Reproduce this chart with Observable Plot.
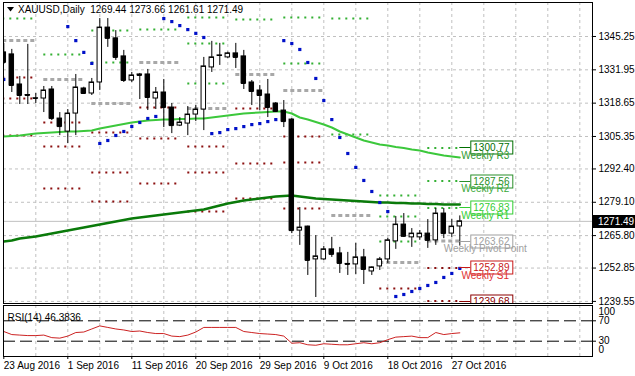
<!DOCTYPE html>
<html><head><meta charset="utf-8">
<script src="https://cdn.jsdelivr.net/npm/d3@7"></script>
<script src="https://cdn.jsdelivr.net/npm/@observablehq/plot@0.6"></script>
<style>
html,body{margin:0;padding:0;background:#fff;}
#wrap{position:relative;width:635px;height:376px;overflow:hidden;background:#fff;font-family:"Liberation Sans",Arial,sans-serif;}
#wrap svg.chart{position:absolute;left:0;}
#title{position:absolute;left:7px;top:4px;font-size:10px;line-height:12px;color:#000;white-space:pre;}
#title svg{vertical-align:middle;margin-right:4px;position:relative;top:-1px;}
</style></head><body>
<div id="wrap"><div id="title"></div></div>
<script>
// ---------- data ----------
const symbol = "XAUUSD,Daily";
const lastOHLC = ["1269.44","1273.66","1261.61","1271.49"];
const opens = [1338.9,1338.1,1326.1,1321.9,1320.6,1320.5,1324.1,1312.5,1307.3,1314.5,1324.5,1322.5,1326.9,1348.8,1344.5,1337.3,1327.7,1330.1,1330.1,1320.5,1322.9,1316.9,1309.7,1310.5,1314.1,1316.1,1332.9,1337.5,1336.9,1338.5,1337.3,1326.9,1323.7,1322.1,1318.5,1315.7,1312.1,1267.8,1269.4,1256.3,1256.3,1260.3,1258.7,1254.5,1254.3,1257.1,1251.5,1253.5,1256.3,1263.5,1270.2,1265.1,1265.1,1266.6,1263.9,1274.6,1266.6,1269.44];
const highs = [1342.5,1340.1,1329.3,1342.1,1322.5,1325.3,1325.3,1314.9,1316.1,1330.1,1325.0,1328.5,1352.4,1352.4,1347.6,1339.7,1330.9,1330.5,1332.1,1324.9,1328.1,1318.5,1312.9,1317.3,1317.7,1336.9,1343.3,1342.5,1339.0,1342.5,1339.7,1327.7,1325.7,1328.1,1318.9,1319.7,1312.5,1277.0,1269.6,1265.8,1261.5,1265.1,1261.1,1259.1,1262.7,1260.3,1253.3,1257.1,1264.7,1273.4,1274.6,1268.6,1267.8,1272.2,1276.6,1276.6,1272.2,1273.66];
const lows = [1334.1,1322.9,1318.1,1318.1,1318.5,1314.9,1311.7,1305.7,1302.5,1305.7,1322.1,1321.7,1323.7,1340.9,1335.7,1326.9,1326.9,1320.1,1315.7,1316.1,1308.9,1306.5,1309.3,1305.7,1311.3,1307.7,1330.9,1333.7,1336.5,1332.5,1324.1,1317.7,1315.7,1312.9,1314.9,1308.9,1266.6,1261.9,1249.9,1241.1,1255.9,1257.1,1250.7,1249.9,1250.3,1246.3,1249.9,1251.9,1254.7,1260.3,1265.1,1261.1,1263.9,1260.7,1261.9,1264.6,1265.1,1261.61];
const closes = [1334.9,1325.7,1321.7,1321.7,1320.5,1323.7,1312.5,1309.3,1314.5,1324.9,1322.5,1326.9,1348.8,1344.5,1336.9,1327.7,1329.7,1329.7,1320.9,1322.9,1316.9,1309.7,1310.9,1314.1,1316.1,1333.3,1336.9,1337.7,1338.5,1336.9,1326.5,1323.3,1321.7,1316.9,1315.3,1311.3,1267.8,1269.0,1255.9,1257.5,1260.3,1258.3,1254.7,1254.3,1257.1,1252.3,1253.1,1256.3,1263.9,1270.2,1265.5,1266.6,1266.6,1263.9,1274.6,1266.6,1269.4,1271.49];
const sar = [1328.1,null,null,null,null,null,null,null,1349.2,1343.6,1338.9,1334.5,1302.55,1303.75,1305.75,1307.34,1309.34,1310.93,1312.53,1313.33,1352.4,1351.2,1349.6,1348.0,1346.5,1344.85,1306.5,1306.9,1308.1,1308.5,1309.3,1310.1,1310.5,1311.3,1312.1,1343.6,1342.45,1340.06,1334.87,1328.5,1319.7,1312.1,1304.95,1298.56,1293.0,1287.8,1283.4,1279.0,1275.4,1241.5,1242.3,1243.5,1244.7,1245.9,1247.1,1249.1,1250.7,1252.7];
const maFast = [1305.35,1305.55,1305.75,1306.14,1306.54,1306.74,1306.94,1307.14,1307.34,1307.34,1307.54,1307.74,1308.54,1309.14,1309.73,1310.33,1310.93,1311.33,1311.73,1311.93,1312.13,1312.13,1312.33,1312.33,1312.53,1312.53,1312.93,1313.33,1313.73,1314.12,1314.52,1314.72,1314.92,1315.12,1315.32,1315.32,1314.52,1312.93,1312.13,1311.13,1310.13,1308.94,1307.34,1306.14,1304.95,1303.75,1302.95,1302.15,1301.75,1301.15,1300.76,1300.16,1299.76,1298.96,1298.36,1297.76,1297.37,1296.97];
const maSlow = [1263.45,1263.85,1264.65,1265.05,1265.45,1266.05,1266.64,1267.24,1267.84,1268.44,1269.04,1269.64,1270.23,1270.83,1271.43,1272.03,1272.63,1273.03,1273.43,1273.82,1274.22,1274.62,1275.02,1275.42,1275.82,1276.22,1277.02,1277.82,1278.61,1279.21,1279.81,1280.21,1280.61,1281.01,1281.41,1281.61,1281.81,1281.41,1281.01,1280.61,1280.41,1280.21,1280.01,1279.81,1279.61,1279.41,1279.21,1279.01,1279.01,1278.81,1278.81,1278.61,1278.61,1278.41,1278.41,1278.21,1278.21,1278.21];
const rsi = [49,43,42,41,41,42,37,36,40,47,48,54,60,57,54,52,49,50,47,45,45,40,39,42,48,57,57,57,57,57,49,47,45,44,43,40,26,27,23,22,25,24,23,23,25,27,25,27,33,38,39,40,37,37,47,43,45,46.38];
const rsiLabel = "RSI(14) 46.3836";

// weekly pivot levels (week start bar .. end bar)
const weekStart = [-1,5,11,17,23,29,35,41,47,53];
const weekEnd   = [4,10,16,22,28,34,40,46,52,57];
const r3 = [null,null,null,null,1352.83,null,null,null,1281.81,1300.77];
const r2 = [null,null,1347.64,null,1342.45,null,1352.83,1352.43,1273.43,1287.56];
const r1 = [1352.43,1338.06,1334.87,1348.04,1326.49,1352.03,1334.47,1306.14,1263.45,1276.83];
const pp = [1343.65,1328.09,1318.51,1334.87,1316.52,1330.08,1323.70,1273.82,1255.07,1263.62];
const s1 = [1328.90,1310.93,1306.94,1316.92,1301.36,1316.52,1305.35,null,1244.70,1252.89];
const s2 = [1320.50,1301.36,1290.98,1304.55,1290.98,1294.57,1294.97,null,null,1239.68];
const s3 = [1305.75,1284.60,1279.41,1286.60,1275.42,1280.61,1276.62,null,null,null];
const levelNames = ["Weekly R3","Weekly R2","Weekly R1","Weekly Pivot Point","Weekly S1","Weekly S2"];
const levelBoxColors = ["#006f00","#2a8f2a","#32cd32","#a0a0a0","#c81818","#8b0000"];
const levelTextColors = ["#2f9a2f","#38a838","#32cd32","#a0a0a0","#e03030","#b01c1c"];

const priceTicks = [1345.25,1331.95,1318.65,1305.35,1292.40,1279.10,1265.80,1252.85,1239.55];
const dateTickBars = [0,8,16,24,32,40,48,56];
const dateTickLabels = ["23 Aug 2016","1 Sep 2016","11 Sep 2016","20 Sep 2016","29 Sep 2016","9 Oct 2016","18 Oct 2016","27 Oct 2016"];
const gridBars = d3.range(4, 73, 4);
const rsiLevels = [30,70];

// ---------- build tables ----------
const candles = opens.map((o,i)=>({i, o, h:highs[i], l:lows[i], c:closes[i], top:Math.max(o,closes[i]), bot:Math.min(o,closes[i])}));
const upC = candles.filter(d=>d.c>=d.o), dnC = candles.filter(d=>d.c<d.o);
const sarData = sar.map((v,i)=>({i,v})).filter(d=>d.v!=null);
const fastData = maFast.map((v,i)=>({i,v}));
const slowData = maSlow.map((v,i)=>({i,v}));
const rsiData = rsi.map((v,i)=>({i,v}));
function segs(arr){ return arr.map((v,k)=>({x1:weekStart[k], x2:weekEnd[k], y:v})).filter(d=>d.y!=null); }
const rSegs = [...segs(r3),...segs(r2),...segs(r1)];
const pSegs = segs(pp);
const sSegs = [...segs(s1),...segs(s2),...segs(s3)];
const labelMap = new Map(dateTickBars.map((b,k)=>[b,dateTickLabels[k]]));

const xDomain = [-0.0375, 73.5875];
const font = "Liberation Sans, Arial, sans-serif";
const lastIdx = closes.length-1;
const lastClose = closes[lastIdx];

// ---------- main chart ----------
const main = Plot.plot({
  width:635, height:304, marginTop:2, marginBottom:1, marginLeft:3, marginRight:43,
  style:{background:"transparent", fontFamily:font, fontSize:"10px", color:"#000", overflow:"visible"},
  x:{domain:xDomain, axis:null, label:null},
  y:{domain:[1238.71,1358.81], axis:null, label:null},
  marks:[
    Plot.gridX({ticks:gridBars, stroke:"#c0c0c0", strokeOpacity:1, strokeDasharray:"3,3"}),
    Plot.gridY({ticks:priceTicks, stroke:"#c0c0c0", strokeOpacity:1, strokeDasharray:"3,3"}),
    Plot.ruleY([lastClose], {stroke:"#c0c0c0", strokeWidth:1}),
    Plot.ruleY(rSegs, {x1:"x1", x2:"x2", y:"y", stroke:"#33b033", strokeWidth:2, strokeDasharray:"2,5", clip:true}),
    Plot.ruleY(pSegs, {x1:"x1", x2:"x2", y:"y", stroke:"#a8a8a8", strokeWidth:3, strokeDasharray:"4,3", clip:true}),
    Plot.ruleY(sSegs, {x1:"x1", x2:"x2", y:"y", stroke:"#8b1010", strokeWidth:2, strokeDasharray:"2,5", clip:true}),
    Plot.line(fastData, {x:"i", y:"v", stroke:"#3cc83c", strokeWidth:2, clip:true}),
    Plot.line(slowData, {x:"i", y:"v", stroke:"#0a7a0a", strokeWidth:2.5, clip:true}),
    Plot.ruleX(candles, {x:"i", y1:"l", y2:"h", stroke:"#000", strokeWidth:1, clip:true}),
    Plot.rect(upC, {x1:d=>d.i-0.28, x2:d=>d.i+0.28, y1:"bot", y2:"top", fill:"#fff", stroke:"#000", strokeWidth:1, clip:true}),
    Plot.rect(dnC, {x1:d=>d.i-0.28, x2:d=>d.i+0.28, y1:"bot", y2:"top", fill:"#000", stroke:"#000", strokeWidth:1, clip:true}),
    Plot.ruleY(candles, {x1:d=>d.i-0.28, x2:d=>d.i+0.28, y:"c", stroke:"#000", strokeWidth:1, clip:true}),
    Plot.dot(sarData, {x:"i", y:"v", symbol:"square", r:1.8, fill:"#0010c8", stroke:"none", clip:true}),
    Plot.axisY({ticks:priceTicks, anchor:"right", label:null, tickSize:3, tickPadding:3, tickFormat:d=>d.toFixed(2), fontSize:10, stroke:"#000"}),
    Plot.frame({stroke:"#000"})
  ]
});
main.classList.add("chart");
main.style.top = "0px";

// ---------- RSI panel ----------
const rsiPlot = Plot.plot({
  width:635, height:72, marginTop:1, marginBottom:20, marginLeft:3, marginRight:43,
  style:{background:"transparent", fontFamily:font, fontSize:"10px", color:"#000", overflow:"visible"},
  x:{domain:xDomain, axis:null, label:null},
  y:{domain:[0,100], axis:null, label:null},
  marks:[
    Plot.gridX({ticks:gridBars, stroke:"#c0c0c0", strokeOpacity:1, strokeDasharray:"3,3"}),
    Plot.ruleY(rsiLevels, {stroke:"#000", strokeDasharray:"12,5"}),
    Plot.line(rsiData, {x:"i", y:"v", stroke:"#cc2222", strokeWidth:1}),
    Plot.axisX({ticks:dateTickBars, anchor:"bottom", label:null, tickSize:3, tickPadding:2, tickFormat:d=>labelMap.get(d), textAnchor:"start", fontSize:10}),
    Plot.axisY({ticks:rsiLevels, anchor:"right", label:null, tickSize:3, tickPadding:3, fontSize:10}),
    Plot.axisY({ticks:[100], anchor:"right", label:null, tickSize:0, tickPadding:6, fontSize:10, dy:6}),
    Plot.axisY({ticks:[0], anchor:"right", label:null, tickSize:0, tickPadding:6, fontSize:10, dy:-7}),
    Plot.text([rsiLabel], {frameAnchor:"top-left", dx:4, dy:8, fontSize:10, fill:"#000", textAnchor:"start"}),
    Plot.frame({stroke:"#000"})
  ]
});
rsiPlot.classList.add("chart");
rsiPlot.style.top = "304px";

const wrap = document.getElementById("wrap");
wrap.appendChild(main);
wrap.appendChild(rsiPlot);

// ---------- level labels on the main chart ----------
const sx = main.scale("x"), sy = main.scale("y");
const [fx0, fx1] = sx.range, [fyB, fyT] = sy.range;
const svg = d3.select(main);
svg.append("defs").append("clipPath").attr("id","mclip")
  .append("rect").attr("x",fx0).attr("y",fyT).attr("width",fx1-fx0).attr("height",fyB-fyT);
const g = svg.append("g").attr("clip-path","url(#mclip)").attr("text-anchor","start")
  .style("font-family",font).style("font-size","10px");
const lastLevels = [r3[9],r2[9],r1[9],pp[9],s1[9],s2[9]];
const xEnd = sx.apply(lastIdx);
const boxL = xEnd + 11, boxW = 42, boxH = 13;
lastLevels.forEach((v,k)=>{
  const y = Math.round(sy.apply(v)) + 0.5;
  g.append("line").attr("x1",xEnd).attr("x2",boxL).attr("y1",y).attr("y2",y).attr("stroke",levelBoxColors[k]);
  g.append("rect").attr("x",boxL+0.5).attr("y",y-6.5).attr("width",boxW).attr("height",boxH)
    .attr("fill","#fff").attr("stroke",levelBoxColors[k]);
  g.append("text").attr("x",boxL+3).attr("y",y).attr("dy","0.35em").attr("text-anchor","start")
    .attr("fill",levelBoxColors[k]).text(v.toFixed(2));
});
lastLevels.forEach((v,k)=>{
  const y = sy.apply(v);
  g.append("text").attr("x",boxL+15).attr("y",y+8).attr("dy","0.35em").attr("text-anchor","middle")
    .attr("fill",levelTextColors[k]).text(levelNames[k]);
});
// current price marker on the axis
const yc = Math.round(sy.apply(lastClose));
svg.append("rect").attr("x",fx1+1).attr("y",yc-6).attr("width",635-fx1-1).attr("height",13).attr("fill","#000");
svg.append("text").attr("x",fx1+6).attr("y",yc+0.5).attr("dy","0.35em").attr("text-anchor","start").attr("fill","#fff")
  .style("font-family",font).style("font-size","10px").text(lastClose.toFixed(2));

// ---------- title ----------
const title = document.getElementById("title");
title.innerHTML = '<svg width="7" height="5" viewBox="0 0 7 5"><polygon points="0,0 7,0 3.5,4.5" fill="#000"/></svg>';
title.appendChild(document.createTextNode(symbol + "  " + lastOHLC.join(" ")));
</script>
</body></html>
